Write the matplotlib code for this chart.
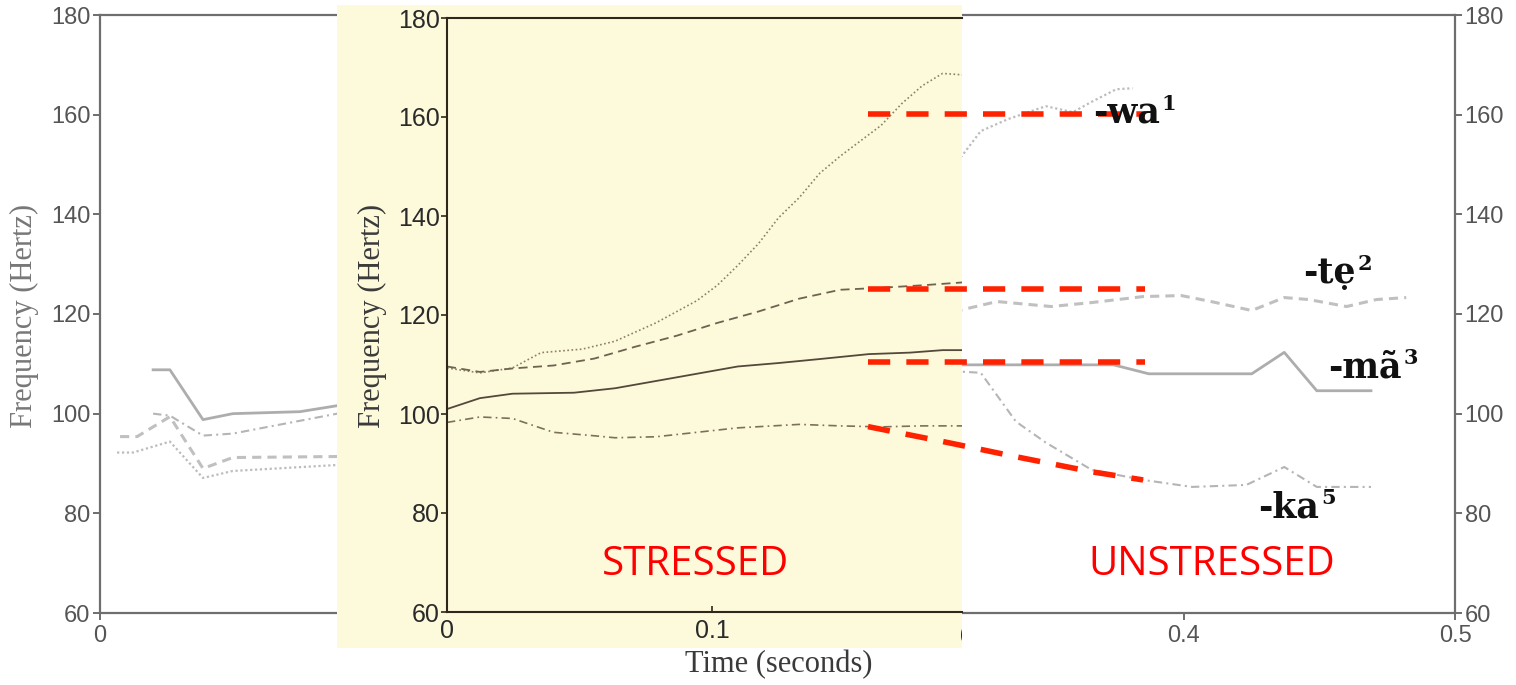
import matplotlib
matplotlib.use('Agg')
import matplotlib.pyplot as plt
from matplotlib.patches import Rectangle
from matplotlib.transforms import Bbox, TransformedBbox

# ---------------- data ----------------
# background (full utterance) contours, Hz vs seconds
bg_wa_x = [0.0063, 0.0122, 0.0258, 0.038, 0.049, 0.0875,
           0.318, 0.325, 0.335, 0.349, 0.359, 0.366, 0.375, 0.381]
bg_wa_y = [92.2, 92.2, 94.4, 87.1, 88.5, 89.7,
           151.7, 156.7, 159.1, 161.7, 160.5, 162.6, 165.1, 165.3]
bg_te_x = [0.0074, 0.0137, 0.0258, 0.038, 0.049, 0.0875,
           0.331, 0.351, 0.366, 0.385, 0.399, 0.410, 0.425, 0.437, 0.446, 0.460, 0.471, 0.482]
bg_te_y = [95.4, 95.4, 99.4, 89.0, 91.2, 91.4,
           122.5, 121.5, 122.3, 123.5, 123.7, 122.5, 120.7, 123.3, 122.9, 121.5, 122.9, 123.3]
bg_ma_x = [0.0196, 0.0258, 0.038, 0.049, 0.0738, 0.0875,
           0.318, 0.374, 0.387, 0.425, 0.437, 0.449, 0.469]
bg_ma_y = [108.8, 108.8, 98.8, 100.0, 100.4, 101.6,
           109.8, 109.8, 108.0, 108.0, 112.3, 104.6, 104.6]
bg_ka_x = [0.0196, 0.0258, 0.038, 0.049, 0.0875,
           0.319, 0.325, 0.338, 0.349, 0.366, 0.385, 0.403, 0.423, 0.437, 0.449, 0.469]
bg_ka_y = [100.0, 99.6, 95.6, 96.0, 100.0,
           108.4, 108.2, 98.4, 94.2, 88.7, 86.7, 85.3, 85.7, 89.3, 85.3, 85.3]

# inset (stressed) contours
st_ma_x = [0, 0.0124, 0.0247, 0.0479, 0.0634, 0.0866, 0.1097, 0.1252, 0.1406, 0.1592, 0.1747, 0.187, 0.195]
st_ma_y = [101.0, 103.2, 104.1, 104.3, 105.2, 107.4, 109.6, 110.3, 111.1, 112.1, 112.4, 112.9, 112.9]
st_te_x = [0, 0.0124, 0.0247, 0.0402, 0.0556, 0.0711, 0.0866, 0.102, 0.1175, 0.1329, 0.1484, 0.1638, 0.1793, 0.195]
st_te_y = [109.6, 108.5, 109.2, 109.8, 111.2, 113.6, 115.8, 118.4, 120.7, 123.3, 125.1, 125.5, 126.0, 126.6]
st_wa_x = [0, 0.0124, 0.0247, 0.0355, 0.051, 0.0634, 0.0788, 0.0943, 0.102, 0.1097, 0.1175,
           0.1252, 0.1329, 0.1406, 0.1484, 0.1561, 0.1638, 0.1716, 0.1793, 0.187, 0.195]
st_wa_y = [109.3, 108.3, 109.3, 112.4, 113.1, 114.7, 118.4, 122.9, 126.0, 130.0, 134.4,
           139.7, 143.7, 148.6, 152.1, 155.2, 158.3, 162.7, 166.3, 168.8, 168.5]
st_ka_x = [0, 0.0124, 0.0247, 0.0402, 0.0556, 0.0634, 0.0788, 0.0943, 0.1097, 0.1329, 0.1484, 0.1638, 0.1793, 0.195]
st_ka_y = [98.3, 99.4, 99.1, 96.3, 95.6, 95.2, 95.4, 96.3, 97.2, 97.9, 97.6, 97.4, 97.6, 97.6]

# red annotation guides (background coordinates)
red_flat_x = [0.2834, 0.3856]
red_wa_y = 160.1
red_te_y = 125.1
red_ma_y = 110.4
red_ka_x = [0.2834, 0.3111, 0.3376, 0.3664, 0.3849]
red_ka_y = [97.4, 94.4, 91.4, 88.3, 86.7]

y_ticks = [60, 80, 100, 120, 140, 160, 180]
bg_x_ticks = [0, 0.4, 0.5]
bg_x_labels = ['0', '0.4', '0.5']
in_x_ticks = [0, 0.1]
in_x_labels = ['0', '0.1']
suffix_stems = ['-wa', '-tẹ', '-mã', '-ka']
suffix_tones = ['1', '2', '3', '5']

# ---------------- layout ----------------
W, H = 1516, 685
fig = plt.figure(figsize=(W / 100, H / 100), dpi=100)
fig.patch.set_facecolor('white')


def fx(px):
    return px / W


def fy(py):
    return 1 - py / H


def rect(l, t, r, b):
    return [fx(l), fy(b), fx(r) - fx(l), fy(t) - fy(b)]


# background axes
ax = fig.add_axes(rect(100, 15, 1455, 613), zorder=0)
ax.set_xlim(0, 0.5)
ax.set_ylim(60, 180)
ax.set_facecolor('white')
for s in ax.spines.values():
    s.set_color('#6e6e6e')
    s.set_linewidth(1.6)
ax.set_yticks(y_ticks)
ax.set_yticklabels([str(v) for v in y_ticks])
ax.set_xticks(bg_x_ticks)
ax.set_xticklabels(bg_x_labels)
ax.tick_params(axis='both', direction='out', length=5, width=1.4, color='#6e6e6e',
               labelcolor='#555555', labelsize=17, pad=2)
ax.tick_params(axis='x', pad=4)
ax.tick_params(axis='y', right=True, labelright=True)
for lbl in ax.get_xticklabels() + ax.get_yticklabels():
    lbl.set_fontfamily('Liberation Sans')

ax.plot(bg_wa_x, bg_wa_y, linestyle=(0, (1, 1.2)), color='#bcbcbc', lw=1.6)
ax.plot(bg_te_x, bg_te_y, linestyle=(0, (3, 2)), color='#c0c0c0', lw=2.2)
ax.plot(bg_ma_x, bg_ma_y, linestyle='-', color='#adadad', lw=2.0)
ax.plot(bg_ka_x, bg_ka_y, linestyle=(0, (4, 2, 1, 2)), color='#b5b5b5', lw=1.5)

fig.text(fx(24), fy(316), 'Frequency (Hertz)', rotation=90, ha='center', va='center',
         family='Liberation Serif', fontsize=22, color='#777777')

# yellow inset panel
yellow = Rectangle((fx(337), fy(648)), fx(962) - fx(337), fy(5) - fy(648),
                   transform=fig.transFigure, facecolor='#fdfadc', edgecolor='none', zorder=1)
fig.patches.append(yellow)

x_right = (962 - 447) / 2650.0
ai = fig.add_axes(rect(447, 18, 962, 612), zorder=2)
ai.set_facecolor('none')
ai.set_xlim(0, x_right)
ai.set_ylim(60, 180)
ai.spines['right'].set_visible(False)
for k in ['left', 'top', 'bottom']:
    ai.spines[k].set_color('#2f2719')
    ai.spines[k].set_linewidth(1.5)
ai.set_yticks(y_ticks)
ai.set_yticklabels([str(v) for v in y_ticks])
ai.set_xticks(in_x_ticks)
ai.set_xticklabels(in_x_labels)
ai.tick_params(axis='y', direction='out', length=4, width=1.2, color='#2f2719',
               labelcolor='#2a2a2a', labelsize=18, pad=1)
ai.tick_params(axis='x', direction='in', length=4, width=1.2, color='#2f2719',
               labelcolor='#2a2a2a', labelsize=18, pad=5)
for lbl in ai.get_xticklabels() + ai.get_yticklabels():
    lbl.set_fontfamily('Liberation Sans')

ai.plot(st_wa_x, st_wa_y, linestyle=(0, (1, 1.5)), color='#8c8066', lw=1.2)
ai.plot(st_te_x, st_te_y, linestyle=(0, (5, 3)), color='#6e6250', lw=1.3)
ai.plot(st_ma_x, st_ma_y, linestyle='-', color='#54483a', lw=1.3)
ai.plot(st_ka_x, st_ka_y, linestyle=(0, (5, 2.5, 1, 2.5)), color='#7d705a', lw=1.2)

fig.text(fx(372), fy(316), 'Frequency (Hertz)', rotation=90, ha='center', va='center',
         family='Liberation Serif', fontsize=22, color='#3a3a3a', zorder=5)
fig.text(fx(779), fy(665), 'Time (seconds)', ha='center', va='center',
         family='Liberation Serif', fontsize=22, color='#3a3a3a', zorder=5)

# clipped partial "0.2" at the panel edge
t02 = fig.text(fx(447 + 0.2 * 2650), fy(637), '0.2', ha='center', va='center',
               family='Liberation Sans', fontsize=18, color='#2a2a2a', zorder=5)
t02.set_clip_on(True)
t02.set_clip_box(TransformedBbox(Bbox([[fx(337), fy(648)], [fx(962), fy(5)]]), fig.transFigure))

# overlay axes for red guides
ao = fig.add_axes(rect(100, 15, 1455, 613), zorder=3)
ao.set_xlim(0, 0.5)
ao.set_ylim(60, 180)
ao.axis('off')
red = '#ff2200'
dash = (0, (4, 2.9))
for yv in [red_wa_y, red_te_y, red_ma_y]:
    ao.plot(red_flat_x, [yv, yv], color=red, lw=4, linestyle=dash, dash_capstyle='butt')
ao.plot(red_ka_x, red_ka_y, color=red, lw=4, linestyle=dash, dash_capstyle='butt')

# suffix labels with tone superscripts
lab_pos = [(1093, 123), (1303, 283), (1328, 377), (1258, 517)]
renderer = fig.canvas.get_renderer()
for stem, tone, (px, py) in zip(suffix_stems, suffix_tones, lab_pos):
    t = fig.text(fx(px), fy(py), stem, ha='left', va='baseline', family='DejaVu Serif',
                 fontweight='bold', fontsize=25, color='#111111', zorder=6)
    bb = t.get_window_extent(renderer)
    fig.text((bb.x1 + 2) / W, fy(py - 13), tone, ha='left', va='baseline',
             family='DejaVu Serif', fontweight='bold', fontsize=15, color='#111111', zorder=6)

fig.text(fx(695), fy(565), 'STRESSED', ha='center', va='center', family='Open Sans',
         fontsize=29, color='#ff0000', zorder=6)
fig.text(fx(1212), fy(565), 'UNSTRESSED', ha='center', va='center', family='Open Sans',
         fontsize=29, color='#ff0000', zorder=6)

fig.savefig('out.png', dpi=100, facecolor='white')
